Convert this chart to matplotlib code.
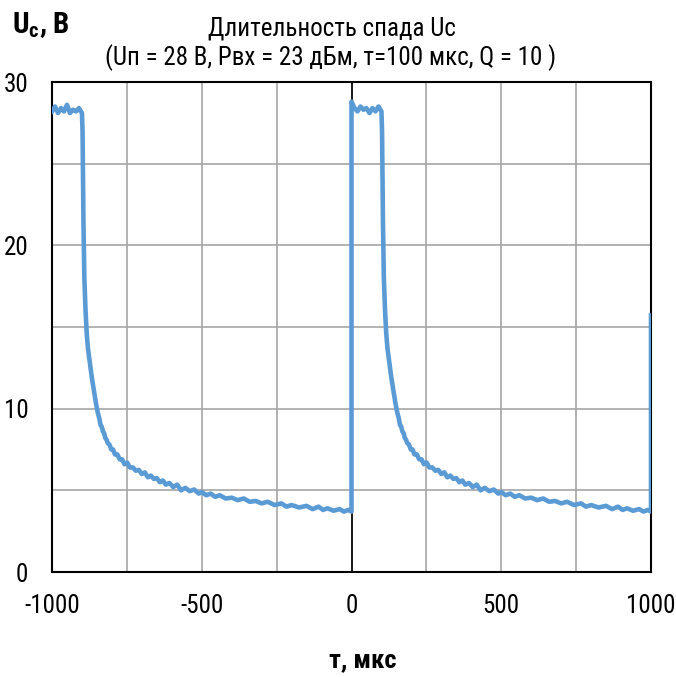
import matplotlib

matplotlib.use("Agg")
import matplotlib.pyplot as plt
from matplotlib.ticker import MultipleLocator

# plateau readings, 10 us step, during the 100 us pulse
plateau_1 = [28.2, 28.5, 28.1, 28.4, 28.2, 28.6, 28.1, 28.3, 28.2, 28.4, 28.1]
plateau_2 = [28.8, 28.4, 28.2, 28.5, 28.3, 28.4, 28.1, 28.4, 28.2, 28.5, 28.2]
plateau_dt = [0, 10, 20, 30, 40, 50, 60, 70, 80, 90, 100]

# decay after the pulse ends: time since the fall (us) and Uc (V)
decay_dt = [0, 2, 5, 8, 12, 16, 20, 25, 33, 41, 47, 53, 58, 62, 66, 70, 74,
            78, 82, 86, 92, 98, 104, 110, 118, 126, 134, 142, 151, 160, 170,
            180, 190, 200, 210, 220, 230, 240, 250, 260, 270, 280, 292, 305,
            318, 331, 345, 360, 375, 390, 400, 415, 430, 445, 460, 480, 500,
            520, 540, 560, 580, 600, 620, 643, 666, 683, 700, 725, 750, 770,
            790, 805, 820, 840, 860, 875, 889, 900]
decay_u = [28.1, 27.0, 21.5, 18.0, 16.0, 14.6, 13.7, 13.0, 11.9, 11.0, 10.3,
           9.75, 9.4, 9.0, 8.9, 8.6, 8.5, 8.2, 8.1, 7.9, 7.8, 7.5, 7.5, 7.2,
           7.2, 6.9, 6.9, 6.6, 6.7, 6.4, 6.4, 6.2, 6.25, 6.0, 6.1, 5.8, 5.9,
           5.7, 5.75, 5.5, 5.6, 5.35, 5.45, 5.2, 5.35, 5.0, 5.15, 4.95, 5.05,
           4.8, 4.9, 4.7, 4.8, 4.6, 4.7, 4.5, 4.55, 4.4, 4.5, 4.3, 4.35, 4.2,
           4.3, 4.1, 4.2, 4.0, 4.1, 3.95, 4.05, 3.85, 4.0, 3.8, 3.9, 3.75,
           3.85, 3.7, 3.8, 3.7]

pulse_starts = [-1000, 0]
final_jump = 15.7

x_labels = [-1000, -500, 0, 500, 1000]
y_labels = [0, 10, 20, 30]

BLUE = "#5B9BD5"

plt.rcParams["font.family"] = ["Roboto Condensed", "PT Sans Narrow", "DejaVu Sans"]
plt.rcParams["axes.unicode_minus"] = False
plt.rcParams["mathtext.fontset"] = "custom"
plt.rcParams["mathtext.bf"] = "Roboto Condensed:bold"
plt.rcParams["mathtext.rm"] = "Roboto Condensed"

t = []
u = []
for start, plateau in zip(pulse_starts, [plateau_1, plateau_2]):
    t += [start + d for d in plateau_dt]
    u += plateau
    fall = start + plateau_dt[-1]
    t += [fall + d for d in decay_dt[1:]]
    u += decay_u[1:]
t.append(1000)
u.append(final_jump)

fig = plt.figure(figsize=(6.76, 6.77), dpi=100)
ax = fig.add_axes([52 / 676, 105 / 677, 599 / 676, 490 / 677])

ax.plot(t, u, color=BLUE, linewidth=3.3, solid_joinstyle="round", zorder=3)
ax.axvline(0, color="black", linewidth=1.2, zorder=2)

ax.set_xlim(-1000, 1000)
ax.set_ylim(0, 30)
ax.set_xticks(x_labels)
ax.set_yticks(y_labels)
ax.xaxis.set_minor_locator(MultipleLocator(250))
ax.yaxis.set_minor_locator(MultipleLocator(5))
ax.grid(True, which="both", color="#A6A6A6", linewidth=1.2, zorder=1)
ax.tick_params(which="both", length=0, labelsize=18)
ax.tick_params(axis="x", pad=16)
ax.tick_params(axis="y", pad=17)
for side in ax.spines.values():
    side.set_color("black")
    side.set_linewidth(1.5)

fig.text(332 / 676, 1 - 35 / 677, "Длительность спада Uc", ha="center", va="baseline", fontsize=18)
fig.text(331 / 676, 1 - 65 / 677, "(Uп = 28 В, Рвх = 23 дБм, т=100 мкс, Q = 10 )",
         ha="center", va="baseline", fontsize=18)
fig.text(12 / 676, 1 - 33 / 677, r"$\mathbf{U_c}$, В", ha="left", va="baseline",
         fontsize=21, fontweight="bold")
fig.text(363 / 676, 1 - 667 / 677, "т, мкс", ha="center", va="baseline",
         fontsize=19, fontweight="bold")

fig.savefig("out.png", dpi=100)
